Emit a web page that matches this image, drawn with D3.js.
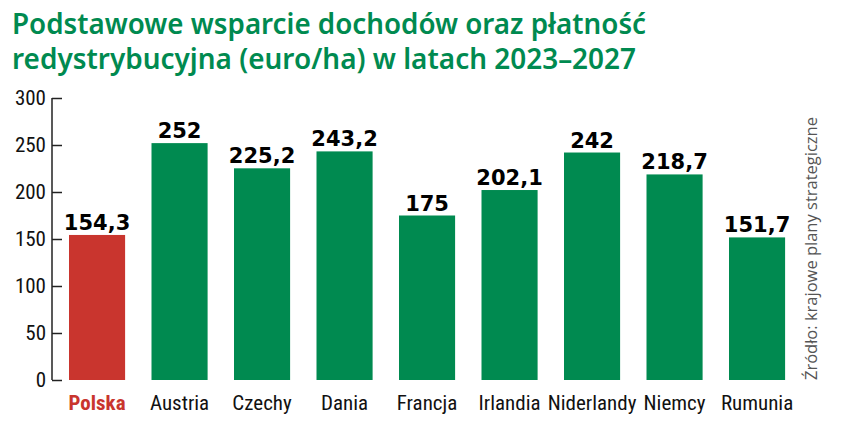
<!DOCTYPE html>
<html><head><meta charset="utf-8">
<script src="https://cdn.jsdelivr.net/npm/d3@7"></script>
<style>body{margin:0;background:#fff}svg{display:block}</style>
</head><body>
<svg id="c" width="847" height="431"></svg>
<script>
const categories = ["Polska","Austria","Czechy","Dania","Francja","Irlandia","Niderlandy","Niemcy","Rumunia"];
const values = [154.3,252,225.2,243.2,175,202.1,242,218.7,151.7];
const valueLabels = ["154,3","252","225,2","243,2","175","202,1","242","218,7","151,7"];
const yTicks = [0,50,100,150,200,250,300];
const titleLines = ["Podstawowe wsparcie dochodów oraz płatność","redystrybucyjna (euro/ha) w latach 2023–2027"];
const sourceText = "Źródło: krajowe plany strategiczne";

const svg = d3.select("#c");
const cond = "'Liberation Sans Narrow','Roboto Condensed','DejaVu Sans Condensed',sans-serif";
const green = "#008a50", red = "#c9352e";

const y = d3.scaleLinear().domain([0,300]).range([380,98]);
const x = d3.scaleBand().domain(categories).range([55.8,798.3]).paddingInner(0.32).paddingOuter(0.16);

// title
svg.append("g").selectAll("text").data(titleLines).join("text")
  .attr("x",12).attr("y",(d,i)=>34+i*35)
  .attr("font-family","'Noto Sans',sans-serif").attr("font-weight",600).attr("font-size",28.5)
  .attr("fill",green)
  .attr("textLength",(d,i)=>i===0?634:624).attr("lengthAdjust","spacingAndGlyphs")
  .text(d=>d);

// axis
const ax = svg.append("g").attr("transform","translate(52,0)")
  .call(d3.axisRight(y).tickValues(yTicks).tickSize(10).tickFormat(""));
ax.select(".domain").attr("stroke","#222").attr("stroke-width",1.5).attr("d","M0,98V380");
ax.selectAll(".tick line").attr("stroke","#222").attr("stroke-width",1.5);
svg.append("g").selectAll("text").data(yTicks).join("text")
  .attr("x",46).attr("y",d=>y(d)+7).attr("text-anchor","end")
  .attr("font-family",cond).attr("font-size",21).attr("fill","#111")
  .text(d=>d);

// bars
svg.append("g").selectAll("rect").data(values).join("rect")
  .attr("x",(d,i)=>x(categories[i])).attr("width",x.bandwidth())
  .attr("y",d=>y(d)).attr("height",d=>y(0)-y(d))
  .attr("fill",(d,i)=>i===0?red:green);

// value labels
svg.append("g").selectAll("text").data(values).join("text")
  .attr("x",(d,i)=>x(categories[i])+x.bandwidth()/2).attr("y",d=>y(d)-5)
  .attr("text-anchor","middle").attr("font-family","'DejaVu Sans',sans-serif")
  .attr("font-weight","bold").attr("font-size",21).attr("fill","#000")
  .text((d,i)=>valueLabels[i]);

// category labels
svg.append("g").selectAll("text").data(categories).join("text")
  .attr("x",d=>x(d)+x.bandwidth()/2).attr("y",410)
  .attr("text-anchor","middle").attr("font-family",cond)
  .attr("font-size",21).attr("font-weight",(d,i)=>i===0?"bold":"normal")
  .attr("fill",(d,i)=>i===0?red:"#111")
  .text(d=>d);

// source
svg.append("text").attr("transform","translate(817,380) rotate(-90)")
  .attr("font-family","'Open Sans',sans-serif").attr("font-size",16.5).attr("fill","#555")
  .text(sourceText);
</script>
</body></html>
